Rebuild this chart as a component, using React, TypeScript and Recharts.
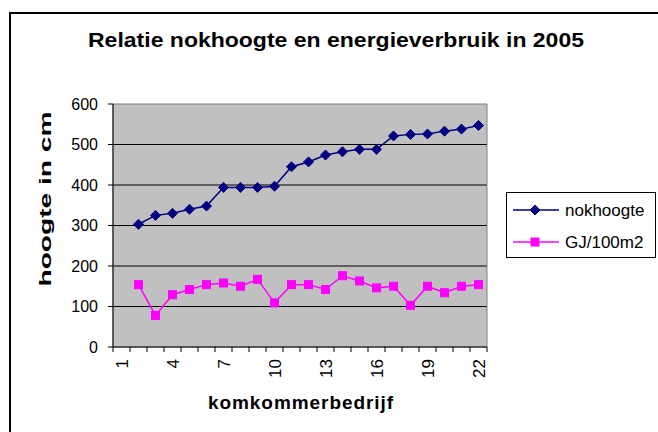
import React from 'react';
import { LineChart, Line, XAxis, YAxis, CartesianGrid, ReferenceArea } from 'recharts';

const categories = ['1', '2', '3', '4', '5', '6', '7', '8', '9', '10', '11', '12', '13', '14', '15', '16', '17', '18', '19', '20', '21', '22'];
const nokhoogte = [null, 303, 325, 330, 340, 348, 394, 394, 394, 397, 445, 457, 474, 482, 488, 488, 521, 525, 526, 533, 538, 547];
const gj100m2 = [null, 154, 78, 129, 142, 154, 158, 150, 167, 109, 154, 154, 142, 176, 163, 146, 150, 103, 150, 134, 150, 154];
const yTicks = [0, 100, 200, 300, 400, 500, 600];
const xTickLabels = ['1', '4', '7', '10', '13', '16', '19', '22'];
const seriesNames = ['nokhoogte', 'GJ/100m2'];
const titleText = 'Relatie nokhoogte en energieverbruik in 2005';
const xTitle = 'komkommerbedrijf';
const yTitle = 'hoogte in cm';

const data = categories.map((c, i) => ({ cat: c, nokhoogte: nokhoogte[i], gj: gj100m2[i] }));

const W = 658;
const H = 432;
const MARGIN = { top: 104, right: 171, bottom: 0, left: 0 };
const YAXIS_W = 113;
const XAXIS_H = 85;
const PLOT_W = W - MARGIN.right - YAXIS_W;
const FONT = '"Liberation Sans", Arial, sans-serif';
const NAVY = '#000080';
const MAGENTA = '#FF00FF';

const Diamond = (props: any) => {
  const { cx, cy } = props;
  if (cx == null || cy == null || props.value == null) return null;
  const r = 5;
  return <polygon points={`${cx},${cy - r} ${cx + r},${cy} ${cx},${cy + r} ${cx - r},${cy}`} fill={NAVY} stroke={NAVY} strokeWidth={1} />;
};

const Square = (props: any) => {
  const { cx, cy } = props;
  if (cx == null || cy == null || props.value == null) return null;
  const r = 4;
  return <rect x={cx - r} y={cy - r} width={2 * r} height={2 * r} fill={MAGENTA} stroke={MAGENTA} strokeWidth={1} />;
};

const XTick = (props: any) => {
  const { x, y, payload } = props;
  const bw = PLOT_W / categories.length;
  const idx = categories.indexOf(String(payload.value));
  const show = xTickLabels.includes(String(payload.value));
  return (
    <g>
      <line x1={x - bw / 2} x2={x - bw / 2} y1={y} y2={y + 5} stroke="#000" strokeWidth={1} />
      {idx === categories.length - 1 && (
        <line x1={x + bw / 2} x2={x + bw / 2} y1={y} y2={y + 5} stroke="#000" strokeWidth={1} />
      )}
      {show && (
        <text
          x={x}
          y={y + 12}
          transform={`rotate(-90, ${x}, ${y + 12})`}
          textAnchor="end"
          dy="0.36em"
          fontSize={17}
          fontFamily={FONT}
          fill="#000"
        >
          {payload.value}
        </text>
      )}
    </g>
  );
};

const LegendBox = () => (
  <g>
    <rect x={506.5} y={192.5} width={149} height={65} fill="#fff" stroke="#000" strokeWidth={1} />
    <line x1={513} x2={559} y1={210} y2={210} stroke={NAVY} strokeWidth={1.5} />
    <Diamond cx={535} cy={210} value={1} />
    <text x={565} y={210} dy="0.35em" fontSize={17} fontFamily={FONT} fill="#000">{seriesNames[0]}</text>
    <line x1={513} x2={559} y1={242} y2={242} stroke={MAGENTA} strokeWidth={1.5} />
    <Square cx={535} cy={242} value={1} />
    <text x={565} y={242} dy="0.35em" fontSize={17} fontFamily={FONT} fill="#000">{seriesNames[1]}</text>
  </g>
);

const Titles = () => (
  <g>
    <line x1={10} x2={10} y1={12} y2={H} stroke="#000" strokeWidth={2} />
    <line x1={9} x2={W} y1={13} y2={13} stroke="#000" strokeWidth={2} />
    <text x={336} y={47} textAnchor="middle" fontSize={21} fontWeight="bold" fontFamily={FONT} fill="#000" textLength={496} lengthAdjust="spacingAndGlyphs">
      {titleText}
    </text>
    <text x={300.5} y={409} textAnchor="middle" fontSize={19} fontWeight="bold" fontFamily={FONT} fill="#000" textLength={185} lengthAdjust="spacing">
      {xTitle}
    </text>
    <text x={51} y={199} transform="rotate(-90, 51, 199)" textAnchor="middle" fontSize={17} fontWeight="bold" fontFamily={FONT} fill="#000" textLength={175} lengthAdjust="spacingAndGlyphs">
      {yTitle}
    </text>
  </g>
);

export default function App() {
  return (
    <div style={{ position: 'absolute', left: 0, top: 0, width: W, height: H, overflow: 'hidden', background: '#fff' }}>
      <LineChart width={W} height={H} data={data} margin={MARGIN}>
        <CartesianGrid vertical={false} stroke="#000" strokeWidth={1} fill="#C0C0C0" fillOpacity={1} horizontalValues={[100, 200, 300, 400, 500]} />
        <ReferenceArea y1={0} y2={600} fill="none" stroke="#808080" strokeWidth={1} ifOverflow="visible" />
        <XAxis
          dataKey="cat"
          scale="band"
          interval={0}
          height={XAXIS_H}
          tickLine={false}
          tickSize={0}
          tickMargin={0}
          axisLine={{ stroke: '#000', strokeWidth: 1 }}
          tick={<XTick />}
        />
        <YAxis
          width={YAXIS_W}
          domain={[0, 600]}
          ticks={yTicks}
          interval={0}
          tickSize={5}
          tickMargin={10}
          axisLine={{ stroke: '#000', strokeWidth: 1 }}
          tickLine={{ stroke: '#000', strokeWidth: 1 }}
          tick={{ fill: '#000', fontSize: 16, fontFamily: FONT }}
        />
        <Line dataKey="nokhoogte" name={seriesNames[0]} stroke={NAVY} strokeWidth={1.5} dot={<Diamond />} activeDot={false} isAnimationActive={false} />
        <Line dataKey="gj" name={seriesNames[1]} stroke={MAGENTA} strokeWidth={1.5} dot={<Square />} activeDot={false} isAnimationActive={false} />
        <LegendBox />
        <Titles />
      </LineChart>
    </div>
  );
}
